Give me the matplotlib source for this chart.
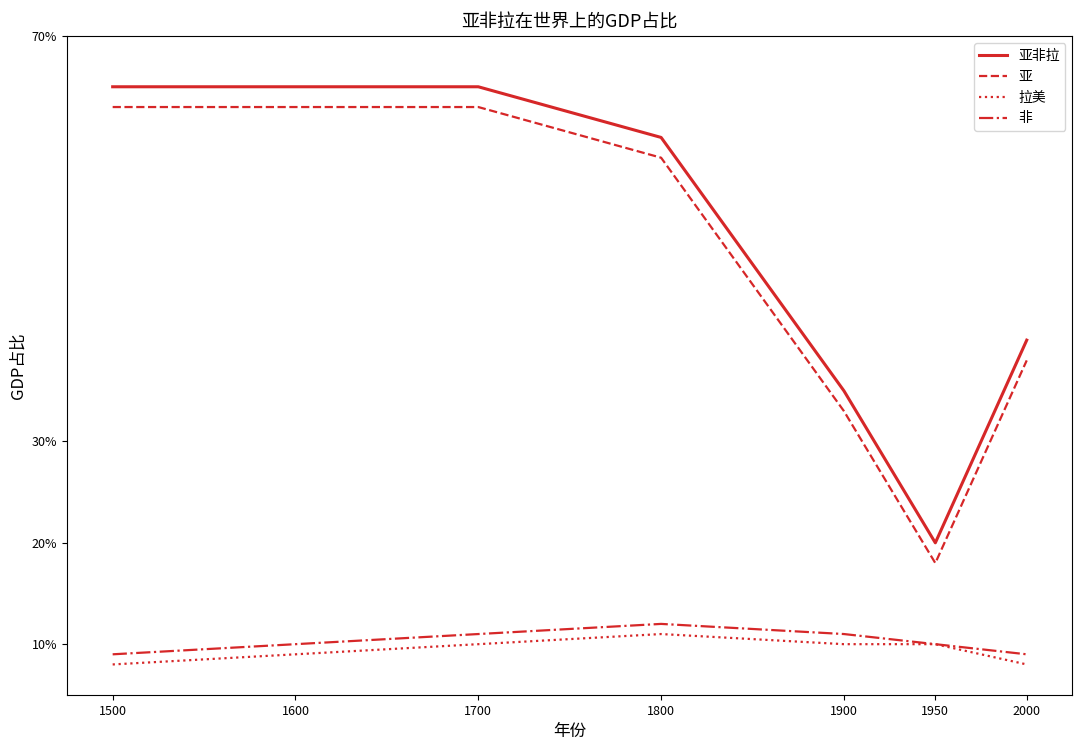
import matplotlib
matplotlib.use('Agg')
import matplotlib.pyplot as plt
from matplotlib.ticker import FuncFormatter

plt.rcParams['font.family'] = ['Noto Sans CJK SC', 'DejaVu Sans']
plt.rcParams['axes.unicode_minus'] = False

# 数据
years = [1500, 1600, 1700, 1800, 1900, 1950, 2000]
asia_africa_latam = [65, 65, 65, 60, 35, 20, 40]
asia = [63, 63, 63, 58, 33, 18, 38]
latam = [8, 9, 10, 11, 10, 10, 8]
africa = [9, 10, 11, 12, 11, 10, 9]
yticks = [10, 20, 30, 70]

red = '#d62728'

fig, ax = plt.subplots(figsize=(10.8, 7.52), dpi=100)
fig.subplots_adjust(left=0.062, right=0.993, top=0.952, bottom=0.076)

ax.plot(years, asia_africa_latam, color=red, linestyle='-', linewidth=2.2, label='亚非拉')
ax.plot(years, asia, color=red, linestyle='--', linewidth=1.6, label='亚')
ax.plot(years, latam, color=red, linestyle=':', linewidth=1.6, label='拉美')
ax.plot(years, africa, color=red, linestyle='-.', linewidth=1.6, label='非')

ax.set_xticks(years)
ax.set_yticks(yticks)
ax.yaxis.set_major_formatter(FuncFormatter(lambda v, p: f'{v:.0f}%'))
ax.set_ylim(5, 70)
ax.tick_params(labelsize=9)

ax.set_title('亚非拉在世界上的GDP占比', fontsize=13)
ax.set_xlabel('年份', fontsize=12)
ax.set_ylabel('GDP占比', fontsize=12)
ax.legend(loc='upper right', fontsize=10)

plt.savefig('out.png', dpi=100)
plt.close()
